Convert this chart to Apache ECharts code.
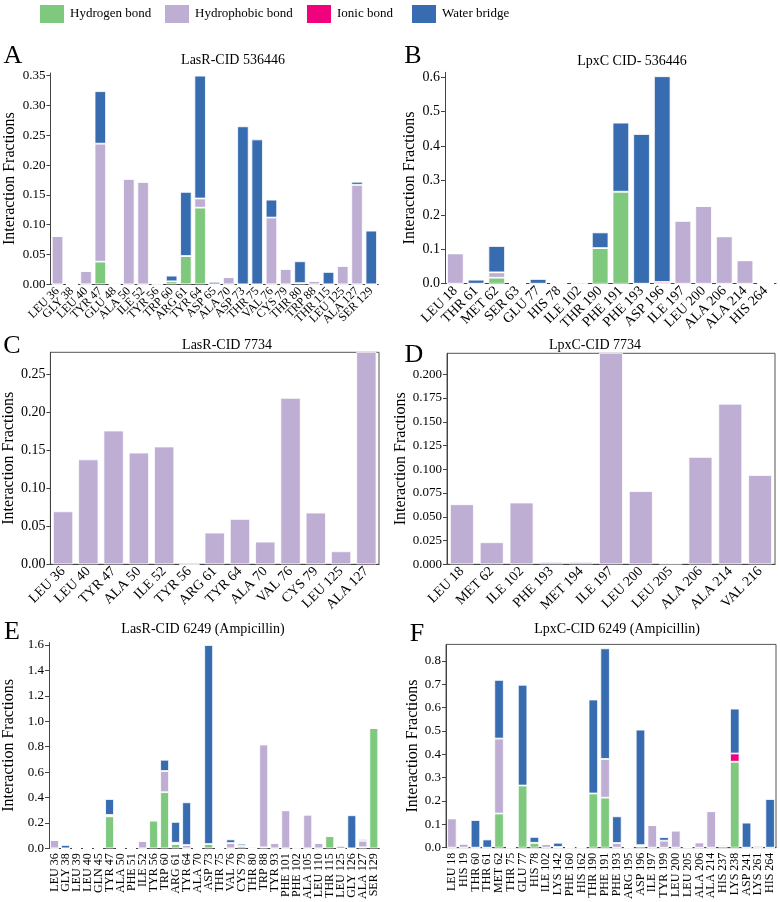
<!DOCTYPE html>
<html><head><meta charset="utf-8">
<script src="https://cdn.jsdelivr.net/npm/echarts@6/dist/echarts.min.js"></script>
<style>html,body{margin:0;padding:0;background:#fff}#c{width:780px;height:902px}</style>
</head><body><div id="c"></div>
<script>
// ---------- DATA ----------
const seriesNames = ['Hydrogen bond', 'Hydrophobic bond', 'Ionic bond', 'Water bridge'];

// Panel A: LasR-CID 536446
const catsA = ['LEU 36','GLY 38','LEU 40','TYR 47','GLU 48','ALA 50','ILE 52','TYR 56','TRP 60','ARG 61','TYR 64','ASP 65','ALA 70','ASP 73','THR 75','VAL 76','CYS 79','THR 80','TRP 88','THR 115','LEU 125','ALA 127','SER 129'];
const hbondA = [0,0,0,0.038,0,0,0,0,0.005,0.0475,0.1286,0,0,0,0,0,0,0.002,0,0,0,0,0];
const hphobA = [0.081,0,0.0224,0.198,0,0.177,0.172,0.002,0,0,0.0154,0,0.012,0,0,0.112,0.026,0,0.0056,0,0.031,0.167,0];
const ionicA = [0,0,0,0,0,0,0,0,0,0,0,0,0,0,0,0,0,0,0,0,0,0,0];
const waterA = [0,0,0,0.088,0.002,0,0,0,0.0095,0.1075,0.206,0.004,0,0.265,0.243,0.030,0,0.0366,0,0.0207,0,0.005,0.09];
const ticksA = [0,0.05,0.10,0.15,0.20,0.25,0.30,0.35];

// Panel B: LpxC CID- 536446
const catsB = ['LEU 18','THR 61','MET 62','SER 63','GLU 77','HIS 78','ILE 102','THR 190','PHE 191','PHE 193','ASP 196','ILE 197','LEU 200','ALA 206','ALA 214','HIS 264'];
const hbondB = [0,0,0.0174,0,0,0,0,0.1037,0.2675,0,0,0,0,0,0,0];
const hphobB = [0.088,0,0.0156,0,0,0.001,0.005,0,0,0,0,0.183,0.226,0.1376,0.068,0];
const ionicB = [0,0,0,0,0,0,0,0,0,0,0.005,0,0,0,0,0];
const waterB = [0,0.0116,0.0765,0,0.0136,0.001,0,0.0453,0.2005,0.435,0.598,0,0,0,0,0.002];
const ticksB = [0,0.1,0.2,0.3,0.4,0.5,0.6];

// Panel C: LasR-CID 7734
const catsC = ['LEU 36','LEU 40','TYR 47','ALA 50','ILE 52','TYR 56','ARG 61','TYR 64','ALA 70','VAL 76','CYS 79','LEU 125','ALA 127'];
const hphobC = [0.0697,0.138,0.176,0.147,0.155,0,0.0417,0.0597,0.0298,0.219,0.068,0.0171,0.30];
const ticksC = [0,0.05,0.10,0.15,0.20,0.25];

// Panel D: LpxC-CID 7734
const catsD = ['LEU 18','MET 62','ILE 102','PHE 193','MET 194','ILE 197','LEU 200','LEU 205','ALA 206','ALA 214','VAL 216'];
const hphobD = [0.0632,0.0232,0.065,0.0025,0.0025,0.24,0.077,0.001,0.113,0.169,0.094];
const ticksD = [0,0.025,0.05,0.075,0.1,0.125,0.15,0.175,0.2];

// Panel E: LasR-CID 6249 (Ampicillin)
const catsE = ['LEU 36','GLY 38','LEU 39','LEU 40','GLN 45','TYR 47','ALA 50','PHE 51','ILE 52','TYR 56','TRP 60','ARG 61','TYR 64','ALA 70','ASP 73','THR 75','VAL 76','CYS 79','THR 80','TRP 88','TYR 93','PHE 101','PHE 102','ALA 105','LEU 110','THR 115','LEU 125','GLY 126','ALA 127','SER 129'];
const hbondE = [0,0,0,0,0,0.252,0,0,0,0.2185,0.442,0.034,0,0,0.034,0,0,0.02,0,0.008,0,0,0,0,0,0.096,0,0,0.008,0.947];
const hphobE = [0.065,0,0,0,0,0.005,0.005,0,0.057,0,0.167,0.006,0.026,0,0,0,0.042,0,0,0.809,0.042,0.299,0.008,0.265,0.042,0,0,0,0.052,0];
const ionicE = [0,0,0,0,0,0.006,0,0,0,0,0,0.004,0,0,0,0,0,0,0,0,0,0,0,0,0,0,0,0,0,0];
const waterE = [0,0.026,0,0,0,0.125,0,0,0,0,0.088,0.164,0.336,0,1.566,0,0.028,0.016,0.008,0,0,0,0,0,0,0,0.016,0.26,0.013,0];
const ticksE = [0,0.2,0.4,0.6,0.8,1.0,1.2,1.4,1.6];

// Panel F: LpxC-CID 6249 (Ampicillin)
const catsF = ['LEU 18','HIS 19','THR 60','THR 61','MET 62','THR 75','GLU 77','HIS 78','ILE 102','LYS 142','PHE 160','HIS 162','THR 190','PHE 191','PHE 193','ARG 195','ASP 196','ILE 197','TYR 199','LEU 200','LEU 205','ALA 206','ALA 214','HIS 237','LYS 238','ASP 241','LYS 261','HIS 264'];
const hbondF = [0,0,0,0,0.146,0,0.266,0.021,0,0,0,0,0.232,0.214,0,0,0.007,0,0,0,0,0,0,0.006,0.368,0,0,0];
const hphobF = [0.125,0.017,0,0,0.321,0,0,0,0.015,0,0,0,0,0.166,0.02,0,0,0.097,0.03,0.073,0.003,0.022,0.156,0,0,0,0,0];
const ionicF = [0,0,0,0,0,0,0,0,0,0.003,0,0,0,0,0,0,0.004,0,0,0,0,0,0,0,0.035,0,0,0];
const waterF = [0,0,0.118,0.035,0.251,0.002,0.431,0.025,0,0.018,0,0.003,0.402,0.473,0.114,0.003,0.494,0,0.015,0,0,0.002,0,0.005,0.192,0.107,0.007,0.208];
const ticksF = [0,0.1,0.2,0.3,0.4,0.5,0.6,0.7,0.8];

// ---------- STYLE / LAYOUT ----------
const colors = {'Hydrogen bond':'#7fc97f','Hydrophobic bond':'#beaed4','Ionic bond':'#f0027f','Water bridge':'#386cb0'};
const FONT = 'Liberation Serif';

const panels = [
  {letter:'A', title:'LasR-CID 536446', cats:catsA, data:{'Hydrogen bond':hbondA,'Hydrophobic bond':hphobA,'Ionic bond':ionicA,'Water bridge':waterA}, ticks:ticksA, dec:2,
   max:0.3545, grid:{left:50.4, top:73, width:328, height:211.3}, rot:45, xfs:12, yfs:13, nameGap:33, box:false,
   lx:13, ly:56.5, tx:233, ty:60},
  {letter:'B', title:'LpxC CID- 536446', cats:catsB, data:{'Hydrogen bond':hbondB,'Hydrophobic bond':hphobB,'Ionic bond':ionicB,'Water bridge':waterB}, ticks:ticksB, dec:1,
   max:0.6145, grid:{left:445, top:72.3, width:331, height:211.4}, rot:45, xfs:14, yfs:14, nameGap:27, box:false,
   lx:413, ly:56.5, tx:632, ty:61.5},
  {letter:'C', title:'LasR-CID 7734', cats:catsC, data:{'Hydrophobic bond':hphobC}, ticks:ticksC, dec:2,
   max:0.279, grid:{left:49, top:352.3, width:330, height:212}, rot:45, xfs:14, yfs:14, nameGap:33, box:true,
   lx:12, ly:346, tx:227, ty:345},
  {letter:'D', title:'LpxC-CID 7734', cats:catsD, data:{'Hydrophobic bond':hphobD}, ticks:ticksD, dec:3,
   max:0.2221, grid:{left:447, top:353.3, width:328, height:211}, rot:45, xfs:14, yfs:13, nameGap:35, box:true,
   lx:414, ly:355, tx:595, ty:345},
  {letter:'E', title:'LasR-CID 6249 (Ampicillin)', cats:catsE, data:{'Hydrogen bond':hbondE,'Hydrophobic bond':hphobE,'Ionic bond':ionicE,'Water bridge':waterE}, ticks:ticksE, dec:1,
   max:1.62, grid:{left:48.8, top:642.5, width:330.5, height:207.5}, rot:90, xfs:12, yfs:13, nameGap:32, box:false,
   lx:12, ly:632, tx:203, ty:629},
  {letter:'F', title:'LpxC-CID 6249 (Ampicillin)', cats:catsF, data:{'Hydrogen bond':hbondF,'Hydrophobic bond':hphobF,'Ionic bond':ionicF,'Water bridge':waterF}, ticks:ticksF, dec:1,
   max:0.87, grid:{left:446, top:644.4, width:330, height:206.3}, rot:90, xfs:12, yfs:13, nameGap:24, box:true,
   lx:417, ly:634, tx:617, ty:629}
];

const grids = [], xAxes = [], yAxes = [], series = [], graphics = [];
panels.forEach((p, i) => {
  grids.push(Object.assign({show:p.box, borderColor:'#555', borderWidth:1, backgroundColor:'transparent', containLabel:false}, p.grid));
  xAxes.push({type:'category', gridIndex:i, data:p.cats,
    axisLine:{lineStyle:{color:'#444', width:1}},
    axisTick:{show:false},
    axisLabel:{interval:0, rotate:p.rot, fontFamily:FONT, fontSize:p.xfs, color:'#000', margin:5}});
  yAxes.push({type:'value', gridIndex:i, min:0, max:p.max,
    name:'Interaction Fractions', nameLocation:'middle', nameGap:p.nameGap,
    nameTextStyle:{fontFamily:FONT, fontSize:16, color:'#000'},
    axisLine:{show:true, lineStyle:{color:'#444', width:1}},
    axisTick:{show:true, length:4, customValues:p.ticks, lineStyle:{color:'#444'}},
    splitLine:{show:false},
    axisLabel:{customValues:p.ticks, fontFamily:FONT, fontSize:p.yfs, color:'#000', margin:5,
      formatter:(v)=>Number(v).toFixed(p.dec)}});
  seriesNames.forEach(name => {
    if (!p.data[name]) return;
    series.push({type:'bar', name:name, xAxisIndex:i, yAxisIndex:i, stack:'s'+i,
      data:p.data[name], barCategoryGap:'20%', clip:true,
      itemStyle:{color:colors[name], borderColor:'#ffffff', borderWidth:0.8},
      emphasis:{disabled:true}});
  });
  graphics.push({type:'text', x:p.lx, y:p.ly, style:{text:p.letter, font:'26px "Liberation Serif"', fill:'#000', textAlign:'center', textVerticalAlign:'middle'}});
  graphics.push({type:'text', x:p.tx, y:p.ty, style:{text:p.title, font:'14px "Liberation Serif"', fill:'#000', textAlign:'center', textVerticalAlign:'middle'}});
});

const legendLefts = [38, 163, 305, 410];
const legends = seriesNames.map((n, k) => ({
  data:[n], left:legendLefts[k], top:3, padding:0, itemWidth:26, itemHeight:20, icon:'rect', itemGap:0,
  textStyle:{fontFamily:FONT, fontSize:13, color:'#000'}, selectedMode:false
}));

const chart = echarts.init(document.getElementById('c'), null, {renderer:'canvas'});
chart.setOption({
  animation:false,
  backgroundColor:'#ffffff',
  color:seriesNames.map(n=>colors[n]),
  legend:legends,
  grid:grids, xAxis:xAxes, yAxis:yAxes, series:series,
  graphic:graphics
});
</script></body></html>
